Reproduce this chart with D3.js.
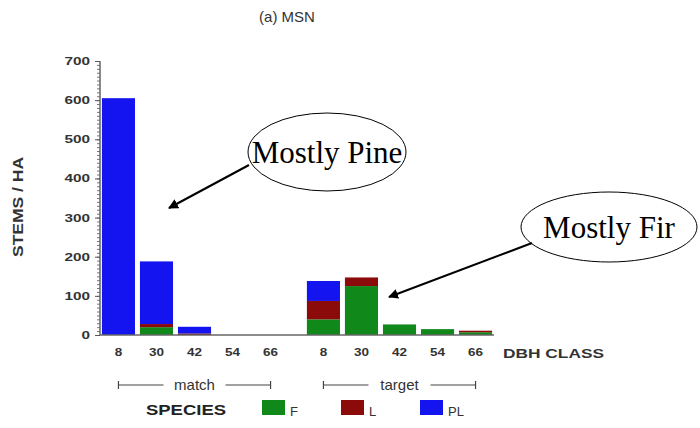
<!DOCTYPE html>
<html>
<head>
<meta charset="utf-8">
<script src="https://cdn.jsdelivr.net/npm/d3@7"></script>
<style>
  html, body { margin: 0; padding: 0; background: #fff; }
  svg { display: block; }
</style>
</head>
<body>
<svg id="chart" width="700" height="428"></svg>
<script>
// ---- data ----
const groups = ["match", "target"];
const classes = ["8", "30", "42", "54", "66"];
const species = ["F", "L", "PL"];
const colors = ["#11891a", "#8b0a0a", "#1414f0"];
// stems/ha per group, per DBH class
const matchF  = [0, 20, 0, 0, 0];
const matchL  = [0, 8, 4, 0, 0];
const matchPL = [605, 160, 17, 0, 0];
const targetF  = [40, 125, 27, 15, 7];
const targetL  = [47, 22, 0, 0, 4];
const targetPL = [51, 0, 0, 0, 0];
const yTicks = [0, 100, 200, 300, 400, 500, 600, 700];

const rows = [];
groups.forEach((g, gi) => {
  const F = gi === 0 ? matchF : targetF;
  const L = gi === 0 ? matchL : targetL;
  const PL = gi === 0 ? matchPL : targetPL;
  classes.forEach((c, i) => rows.push({group: g, cls: c, F: F[i], L: L[i], PL: PL[i]}));
});

const svg = d3.select("#chart");
const font = "Arial, 'Liberation Sans', sans-serif";

const y = d3.scaleLinear().domain([0, 700]).range([335, 61]);
const x0 = d3.scaleBand().domain(groups).range([100, 494]).paddingInner(0.078);
const x1 = d3.scaleBand().domain(classes).range([0, x0.bandwidth()]).paddingInner(0.13).paddingOuter(0.05);

// title
svg.append("text").attr("x", 287).attr("y", 22).attr("text-anchor", "middle")
  .attr("font-family", font).attr("font-size", 15).attr("fill", "#333").text("(a) MSN");

// bars
const stack = d3.stack().keys(species)(rows);
stack.forEach((layer, si) => {
  svg.append("g").selectAll("rect").data(layer).join("rect")
    .attr("x", d => x0(d.data.group) + x1(d.data.cls))
    .attr("width", x1.bandwidth())
    .attr("y", d => y(d[1]))
    .attr("height", d => Math.max(0, y(d[0]) - y(d[1])))
    .attr("fill", colors[si]);
});

// y axis with minor ticks
const yAxisG = svg.append("g").attr("transform", "translate(100,0)");
yAxisG.call(d3.axisLeft(y).tickValues(d3.range(0, 701, 10)).tickSize(3).tickFormat(""))
  .call(g => g.select(".domain").remove())
  .call(g => g.selectAll("line").attr("stroke", "#777"));
yAxisG.call(g => g.append("g").call(d3.axisLeft(y).tickValues(yTicks).tickSize(5).tickFormat(d3.format("d")))
  .call(a => a.select(".domain").remove())
  .call(a => a.selectAll("line").attr("stroke", "#555"))
  .call(a => a.selectAll("text").attr("font-family", font).attr("font-size", 11).attr("font-weight", "bold")
    .attr("fill", "#333").attr("x", -10)
    .attr("textLength", d => String(d).length * 8.5).attr("lengthAdjust", "spacingAndGlyphs")));
svg.append("line").attr("x1", 100).attr("x2", 100).attr("y1", y(700)).attr("y2", y(0))
  .attr("stroke", "#666").attr("stroke-width", 1.5);

// x axis
svg.append("line").attr("x1", 100).attr("x2", 494).attr("y1", y(0)).attr("y2", y(0))
  .attr("stroke", "#666").attr("stroke-width", 1.5);
groups.forEach(g => {
  const ax = svg.append("g").attr("transform", `translate(${x0(g)},${y(0)})`)
    .call(d3.axisBottom(x1).tickSize(0).tickPadding(13));
  ax.select(".domain").remove();
  ax.selectAll("text").attr("font-family", font).attr("font-size", 11).attr("font-weight", "bold").attr("fill", "#333")
    .attr("textLength", d => String(d).length * 7.5).attr("lengthAdjust", "spacingAndGlyphs");
  // group bracket
  const a = x0(g) + x1(classes[0]) + x1.bandwidth() / 2;
  const b = x0(g) + x1(classes[classes.length - 1]) + x1.bandwidth() / 2;
  const mid = (a + b) / 2, by = 385;
  const br = svg.append("g").attr("stroke", "#444").attr("stroke-width", 1.2);
  br.append("line").attr("x1", a).attr("x2", mid - 31).attr("y1", by).attr("y2", by);
  br.append("line").attr("x1", mid + 31).attr("x2", b).attr("y1", by).attr("y2", by);
  br.append("line").attr("x1", a).attr("x2", a).attr("y1", by - 4).attr("y2", by + 4);
  br.append("line").attr("x1", b).attr("x2", b).attr("y1", by - 4).attr("y2", by + 4);
  svg.append("text").attr("x", mid).attr("y", by + 5).attr("text-anchor", "middle")
    .attr("font-family", font).attr("font-size", 15).attr("fill", "#333").text(g);
});
svg.append("text").attr("x", 503).attr("y", 358).attr("font-family", font).attr("font-size", 13)
  .attr("font-weight", "bold").attr("fill", "#333").attr("textLength", 101)
  .attr("lengthAdjust", "spacingAndGlyphs").text("DBH CLASS");

// y label
svg.append("text").attr("transform", "translate(23,207) rotate(-90)").attr("text-anchor", "middle")
  .attr("font-family", font).attr("font-size", 15).attr("font-weight", "bold").attr("fill", "#333")
  .attr("textLength", 100).attr("lengthAdjust", "spacingAndGlyphs").text("STEMS / HA");

// legend
svg.append("text").attr("x", 146).attr("y", 415).attr("font-family", font).attr("font-size", 15)
  .attr("font-weight", "bold").attr("fill", "#222").attr("textLength", 80)
  .attr("lengthAdjust", "spacingAndGlyphs").text("SPECIES");
const legX = [262, 341, 420];
species.forEach((s, i) => {
  svg.append("rect").attr("x", legX[i]).attr("y", 400).attr("width", 23).attr("height", 15).attr("fill", colors[i]);
  svg.append("text").attr("x", legX[i] + 28).attr("y", 416).attr("font-family", font).attr("font-size", 13)
    .attr("fill", "#333").text(s);
});

// annotations
const ann = [
  {text: "Mostly Pine", cx: 327, cy: 152, rx: 79, ry: 39, from: [249, 165], to: [169, 208]},
  {text: "Mostly Fir", cx: 609, cy: 227, rx: 88, ry: 35, from: [532, 243], to: [389, 297]}
];
const defs = svg.append("defs");
defs.append("marker").attr("id", "arr").attr("viewBox", "0 0 10 10").attr("refX", 9).attr("refY", 5)
  .attr("markerWidth", 5).attr("markerHeight", 5).attr("orient", "auto")
  .append("path").attr("d", "M0,0 L10,5 L0,10 z").attr("fill", "#000");
ann.forEach(a => {
  svg.append("ellipse").attr("cx", a.cx).attr("cy", a.cy).attr("rx", a.rx).attr("ry", a.ry)
    .attr("fill", "#fff").attr("stroke", "#000").attr("stroke-width", 1);
  svg.append("text").attr("x", a.cx).attr("y", a.cy + 11).attr("text-anchor", "middle")
    .attr("font-family", "'Liberation Serif', 'Times New Roman', serif").attr("font-size", 31).attr("fill", "#000").text(a.text);
  svg.append("line").attr("x1", a.from[0]).attr("y1", a.from[1]).attr("x2", a.to[0]).attr("y2", a.to[1])
    .attr("stroke", "#000").attr("stroke-width", 2).attr("marker-end", "url(#arr)");
});
</script>
</body>
</html>
